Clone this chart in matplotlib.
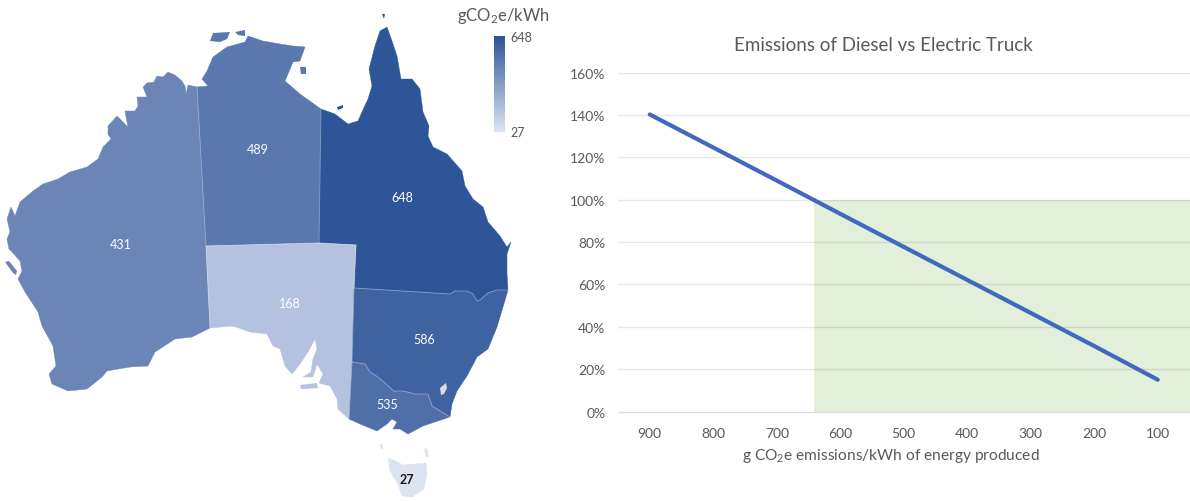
import numpy as np
import matplotlib
matplotlib.use("Agg")
import matplotlib.pyplot as plt
from matplotlib.colors import LinearSegmentedColormap
from matplotlib.patches import Polygon

plt.rcParams['font.family'] = ['Lato', 'DejaVu Sans']
plt.rcParams['mathtext.default'] = 'regular'

# chart values
energy_intensity = [900, 800, 700, 600, 500, 400, 300, 200, 100]
truck_emissions = [140.2, 124.6, 109.0, 93.3, 77.7, 62.1, 46.5, 30.9, 15.0]
breakeven_intensity = 642
y_ticks = [0, 20, 40, 60, 80, 100, 120, 140, 160]

state_values = {'WA': 431, 'NT': 489, 'QLD': 648, 'SA': 168, 'NSW': 586, 'VIC': 535, 'TAS': 27}
state_colors = {'WA': '#6b85b6', 'NT': '#5a77ae', 'QLD': '#2e5597', 'SA': '#b4c2e0',
                'NSW': '#3f62a0', 'VIC': '#4f6fa8', 'TAS': '#dce4f2'}
label_spots = {'WA': (121, 245), 'NT': (258, 150), 'QLD': (402, 198), 'SA': (290, 304),
               'NSW': (424, 340), 'VIC': (387, 405), 'TAS': (407, 480)}

# outlines, traced in map pixels
wa_coast = [(197, 88), (188, 86), (186, 95), (185, 87), (182, 82), (175, 76), (168, 73), (163, 78),
            (157, 77), (154, 83), (147, 84), (143, 88), (147, 98), (137, 98), (138, 107), (135, 112),
            (125, 112), (128, 128), (117, 117), (108, 127), (108, 135), (111, 140), (103, 148),
            (98, 160), (87, 168), (70, 173), (58, 180), (43, 185), (33, 192), (20, 203), (15, 217),
            (11, 208), (7, 220), (10, 233), (7, 240), (9, 250), (12, 253), (20, 262), (22, 272),
            (18, 280), (25, 293), (38, 313), (42, 327), (53, 347), (56, 367), (49, 375),
            (52, 385), (68, 392), (87, 390), (102, 378), (107, 372), (130, 368), (148, 367),
            (155, 353), (175, 340), (192, 338), (210, 329)]
sa_coast = [(210, 329), (233, 327), (250, 333), (267, 335), (273, 347), (280, 350), (285, 367),
            (292, 375), (300, 365), (308, 353), (315, 340), (317, 350), (313, 360),
            (311, 373), (303, 378), (313, 378), (317, 365), (323, 375), (319, 384), (330, 387),
            (337, 400), (338, 410), (349, 420)]
sa_vic_border = [(349, 420), (352, 363)]
sa_nsw_border = [(352, 363), (354, 289)]
sa_qld_border = [(354, 289), (356, 246)]
sa_nt_border = [(356, 246), (319, 244)]
wa_sa_border = [(206, 247), (210, 329)]
nt_south = [(319, 244), (206, 247)]
wa_nt_border = [(206, 247), (197, 88)]
nt_coast = [(197, 88), (208, 87), (202, 80), (207, 72), (213, 58), (227, 48), (245, 43), (248, 37),
            (263, 42), (280, 45), (293, 47), (305, 48), (300, 62), (293, 63), (285, 82), (300, 95),
            (321, 110)]
qld_nt_border = [(321, 110), (319, 244)]
qld_coast = [(321, 110), (335, 115), (348, 125), (358, 122), (362, 113), (368, 100), (372, 87),
             (369, 70), (375, 47), (380, 32), (387, 28), (392, 42), (397, 57), (401, 80), (412, 80),
             (420, 90), (423, 113), (429, 127), (428, 137), (433, 148), (447, 155), (462, 172),
             (465, 187), (473, 200), (483, 208), (488, 223), (500, 237), (507, 248), (511, 243),
             (507, 255), (507, 275), (508, 291)]
qld_nsw_border = [(508, 291), (497, 291), (488, 294), (480, 301), (477, 302), (473, 295), (467, 292),
                  (455, 292), (450, 295), (354, 289)]
nsw_coast = [(508, 291), (503, 308), (497, 328), (488, 350), (477, 358), (467, 377), (457, 392),
             (452, 405), (450, 418)]
nsw_vic_border = [(450, 418), (432, 407), (428, 395), (415, 395), (403, 392), (395, 392), (395, 393),
                  (378, 378), (370, 373), (365, 365), (352, 363)]
vic_coast = [(450, 418), (423, 427), (408, 435), (400, 430), (393, 430), (397, 423), (392, 420),
             (387, 425), (377, 432), (360, 425), (349, 420)]
tas_outline = [(388, 459), (396, 462), (403, 466), (415, 465), (426, 464), (427, 475), (424, 490),
               (412, 498), (402, 497), (397, 483), (390, 472)]
melville_island = [(210, 42), (213, 34), (230, 33), (227, 40), (220, 43)]
bathurst_island = [(235, 33), (245, 31), (245, 37), (238, 36)]
groote_eylandt = [(300, 68), (306, 68), (306, 75), (301, 75)]
mornington_island = [(337, 108), (343, 106), (343, 109), (338, 111)]
torres_speck = [(382, 15), (385, 15), (384, 20)]
shark_bay_strip = [(5, 263), (9, 262), (17, 272), (16, 276), (13, 274)]
kangaroo_island = [(300, 386), (317, 384), (318, 389), (301, 390)]
king_island = [(380, 445), (382, 445), (383, 450), (381, 450)]
flinders_island = [(424, 450), (427, 449), (429, 458), (426, 458)]
act_outline = [(440, 389), (446, 384), (447, 389), (444, 395), (441, 396)]


def join(*parts):
    return [p for part in parts for p in part]


state_shapes = {
    'WA': join(wa_coast, wa_sa_border[::-1], wa_nt_border),
    'NT': join(nt_coast, qld_nt_border, nt_south, wa_nt_border),
    'QLD': join(qld_coast, qld_nsw_border, sa_qld_border, sa_nt_border, qld_nt_border[::-1]),
    'SA': join(sa_coast, sa_vic_border, sa_nsw_border, sa_qld_border, sa_nt_border, nt_south, wa_sa_border),
    'NSW': join(nsw_coast, nsw_vic_border, sa_nsw_border, qld_nsw_border[::-1]),
    'VIC': join(vic_coast, sa_vic_border, nsw_vic_border[::-1]),
    'TAS': tas_outline,
}
islands = {'WA': [shark_bay_strip], 'NT': [melville_island, bathurst_island, groote_eylandt],
           'QLD': [mornington_island, torres_speck], 'SA': [kangaroo_island],
           'TAS': [king_island, flinders_island]}
inner_borders = [wa_nt_border, wa_sa_border, nt_south, qld_nt_border, sa_nt_border, sa_qld_border,
                 sa_nsw_border, sa_vic_border, qld_nsw_border, nsw_vic_border]

fig = plt.figure(figsize=(11.9, 5.02), dpi=100)

# map side uses picture pixels directly
ax_map = fig.add_axes([0, 0, 1, 1])
ax_map.set_xlim(0, 1190)
ax_map.set_ylim(502, 0)
ax_map.axis('off')

for state, shape in state_shapes.items():
    ax_map.add_patch(Polygon(shape, closed=True, facecolor=state_colors[state],
                             edgecolor=state_colors[state], linewidth=0.3))
    for island in islands.get(state, []):
        ax_map.add_patch(Polygon(island, closed=True, facecolor=state_colors[state], edgecolor='none'))
    x, y = label_spots[state]
    ax_map.text(x, y, str(state_values[state]), ha='center', va='center', fontsize=9, zorder=5,
                color='#1a1a1a' if state == 'TAS' else 'white',
                fontweight='bold' if state == 'TAS' else 'normal')
for border in inner_borders:
    bx, by = zip(*border)
    ax_map.plot(bx, by, color='white', alpha=0.3, linewidth=0.7, zorder=4)
ax_map.add_patch(Polygon(act_outline, closed=True, facecolor='#dcdedd', edgecolor='none', zorder=4))

# colour scale
scale = LinearSegmentedColormap.from_list('scale', ['#dce4f2', '#2e5597'])
ax_map.imshow(np.linspace(1, 0, 100).reshape(-1, 1), cmap=scale, extent=(494, 505, 133, 37),
              aspect='auto')
ax_map.set_xlim(0, 1190)
ax_map.set_ylim(502, 0)
ax_map.text(503, 16, 'gCO$_2$e/kWh', ha='center', va='center', fontsize=12, color='#595959')
ax_map.text(510, 37.5, str(max(state_values.values())), ha='left', va='center', fontsize=9, color='#595959')
ax_map.text(510, 133.5, str(min(state_values.values())), ha='left', va='center', fontsize=9, color='#595959')

# line chart
ax = fig.add_axes([618 / 1190, 1 - 412.5 / 502, 571.5 / 1190, 339 / 502])
ax.set_xlim(950, 50)
ax.set_ylim(0, 160)
ax.fill_between([breakeven_intensity, 50], 0, 100, color='#e2efda', linewidth=0, zorder=1)
ax.plot(energy_intensity, truck_emissions, color='#4068bf', linewidth=3,
        solid_capstyle='round', zorder=3)

ax.set_xticks(energy_intensity)
ax.set_yticks(y_ticks)
ax.set_yticklabels([f'{v}%' for v in y_ticks])
ax.grid(axis='y', color='black', alpha=0.09, linewidth=1)
ax.tick_params(axis='both', length=0, labelsize=10, labelcolor='#595959')
ax.tick_params(axis='y', pad=9)
ax.tick_params(axis='x', pad=11)
for side in ['top', 'right', 'left']:
    ax.spines[side].set_visible(False)
ax.spines['bottom'].set_color('#d9d9d9')
ax.set_xlabel('g CO$_2$e emissions/kWh of energy produced', fontsize=11.2, color='#595959', labelpad=5.5,
              x=(891 - 618) / 571.5)
ax.set_title('Emissions of Diesel vs Electric Truck', fontsize=13.5, color='#595959', pad=16.5,
             x=(883 - 618) / 571.5)

fig.savefig('out.png', dpi=100)
